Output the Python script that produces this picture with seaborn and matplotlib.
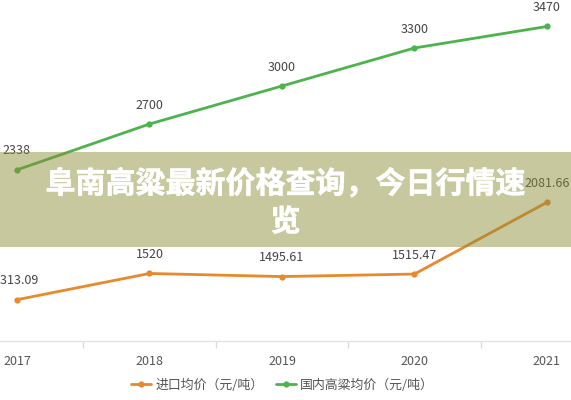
import numpy as np
import matplotlib
matplotlib.use("Agg")
import matplotlib.pyplot as plt
import matplotlib.patheffects as pe
import seaborn as sns
import pandas as pd
from matplotlib.patches import Rectangle

years = [2017, 2018, 2019, 2020, 2021]
import_price = [1313.09, 1520, 1495.61, 1515.47, 2081.66]
domestic_price = [2338, 2700, 3000, 3300, 3470]
import_labels = ["1313.09", "1520", "1495.61", "1515.47", "2081.66"]
domestic_labels = ["2338", "2700", "3000", "3300", "3470"]
series_names = ["进口均价（元/吨）", "国内高粱均价（元/吨）"]
title = "阜南高粱最新价格查询，今日行情速"
title2 = "览"

sns.set_theme(style="white")
plt.rcParams['font.family'] = ['Noto Sans CJK SC', 'DejaVu Sans']

df = pd.DataFrame({
    "year": years * 2,
    "price": import_price + domestic_price,
    "series": [series_names[0]] * 5 + [series_names[1]] * 5,
})

orange = "#e8892b"
green = "#4db34d"

fig = plt.figure(figsize=(5.71, 4.0), dpi=100)
ax = fig.add_axes([-0.0863, 0.1475, 1.1602, 0.8525])

sns.lineplot(data=df, x="year", y="price", hue="series", palette=[orange, green],
             marker="o", markersize=4.5, markeredgewidth=0, linewidth=2, ax=ax)

ax.set_xlim(2016.5, 2021.5)
ax.set_ylim(987, 3679)
ax.set_xlabel("")
ax.set_ylabel("")
ax.set_yticks([])
ax.set_xticks(years)
ax.set_xticklabels([str(y) for y in years], color="#555555", fontsize=9)
ax.set_xticks([y + 0.5 for y in years[:-1]], minor=True)
ax.tick_params(axis="x", which="major", length=0, pad=10)
ax.tick_params(axis="x", which="minor", length=5, color="#dddddd", width=1, bottom=True)
for s in ["top", "right", "left"]:
    ax.spines[s].set_visible(False)
ax.spines["bottom"].set_color("#e3e3e3")
ax.spines["bottom"].set_linewidth(1)

for x, v, t in zip(years, import_price, import_labels):
    ax.annotate(t, (x, v), xytext=(0, 9), textcoords="offset points", ha="center",
                va="bottom", fontsize=9, color="#444444")
for x, v, t in zip(years, domestic_price, domestic_labels):
    ax.annotate(t, (x, v), xytext=(0, 9), textcoords="offset points", ha="center",
                va="bottom", fontsize=9, color="#444444")

leg = ax.legend(loc="center", ncol=2, frameon=False, fontsize=9.3,
                handlelength=1.5, columnspacing=1.0, handletextpad=0.35)
for txt in leg.get_texts():
    txt.set_color("#555555")
leg.set_bbox_to_anchor((0.495, 0.037), transform=fig.transFigure)

# banner across the middle
fig.patches.append(Rectangle((0, 1 - 247 / 400), 1, 95 / 400, transform=fig.transFigure,
                             facecolor=(0.55, 0.55, 0.22), alpha=0.48, edgecolor="none",
                             zorder=5))
heavy = [pe.Stroke(linewidth=0.4, foreground="white"), pe.Normal()]
fig.text(0.5, 1 - 184 / 400, title, ha="center", va="center", color="white",
         fontsize=21.6, fontweight="bold", zorder=6, path_effects=heavy)
fig.text(0.5, 1 - 222 / 400, title2, ha="center", va="center", color="white",
         fontsize=21.6, fontweight="bold", zorder=6, path_effects=heavy)

fig.savefig("out.png", dpi=100)
